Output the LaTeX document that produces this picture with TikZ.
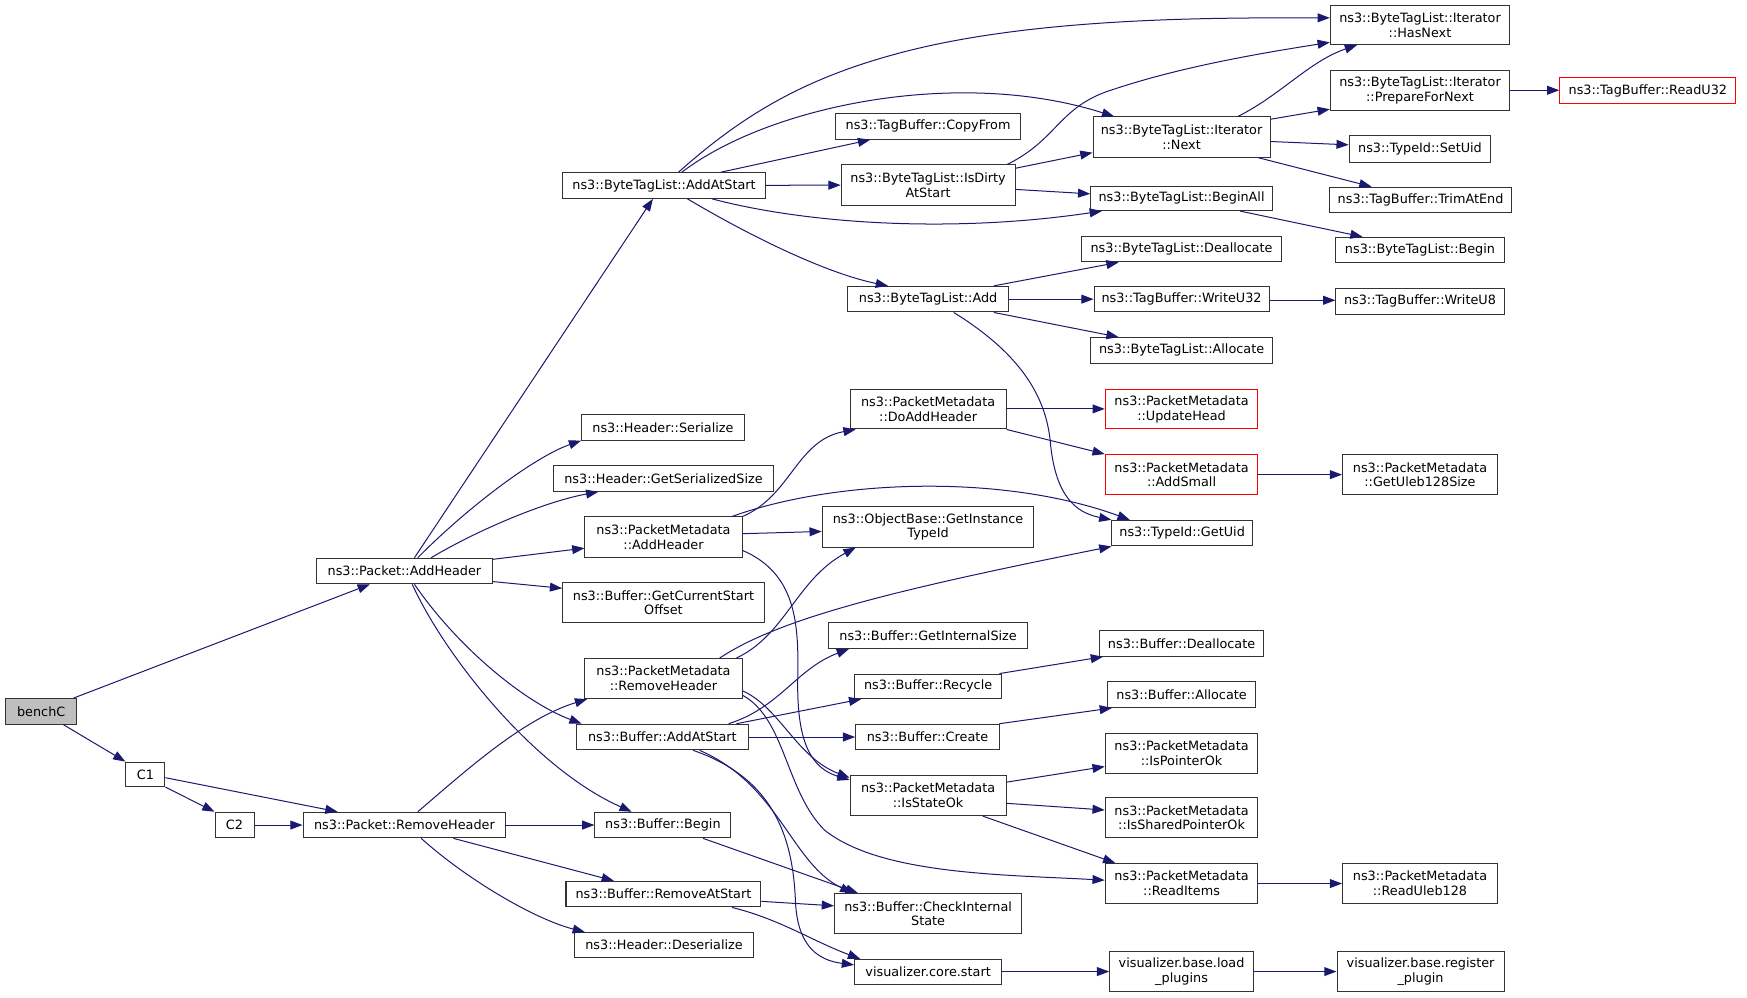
\documentclass[tikz,border=0pt]{standalone}
\usepackage{fontspec}
\setmainfont{DejaVu Sans}
\usetikzlibrary{arrows.meta,calc}
\definecolor{edgeblue}{HTML}{191970}
\definecolor{boxline}{HTML}{333333}
\definecolor{benchgray}{HTML}{BFBFBF}
\newcommand\dgfont{\fontsize{11.5}{13.2}\selectfont}
\tikzset{
  fn/.style={draw=boxline, line width=0.9pt, inner sep=0pt, align=center, font=\dgfont, fill=white},
  redbox/.style={draw=red},
  e/.style={draw=edgeblue, line width=0.9pt, -{Triangle[length=11pt,width=8pt]}}
}
\newcommand\fnode[7][]{%
  \node[fn,#1,minimum width={#4-#3},minimum height={#6-#5}] (#2) at ({(#3+#4)/2},{-(#5+#6)/2}) {#7};}
\begin{document}
\begin{tikzpicture}[x=1pt,y=1pt]
\useasboundingbox (0,0) rectangle (1568,-895);
% ---------- nodes ----------
\fnode[fill=benchgray]{benchC}{5}{69}{627}{650}{benchC}
\fnode{C1}{113}{148}{684}{706}{C1}
\fnode{C2}{193}{228}{729}{752}{C2}
\fnode{pAddH}{284}{442}{501}{524}{ns3::Packet::AddHeader}
\fnode{pRemH}{272}{454}{729}{752}{ns3::Packet::RemoveHeader}
\fnode{btlAddAtStart}{505}{687}{155}{178}{ns3::ByteTagList::AddAtStart}
\fnode{hSer}{522}{668}{372}{395}{ns3::Header::Serialize}
\fnode{hGSS}{497}{694}{418}{441}{ns3::Header::GetSerializedSize}
\fnode{pmAddH}{525}{666}{464}{500}{ns3::PacketMetadata\\::AddHeader}
\fnode{bGCSO}{505}{686}{523}{559}{ns3::Buffer::GetCurrentStart\\Offset}
\fnode{pmRemH}{525}{666}{591}{627}{ns3::PacketMetadata\\::RemoveHeader}
\fnode{bAddAtStart}{517}{672}{650}{673}{ns3::Buffer::AddAtStart}
\fnode{bBegin}{534}{656}{729}{752}{ns3::Buffer::Begin}
\fnode{bRemAtStart}{508}{683}{791}{814}{ns3::Buffer::RemoveAtStart}
\fnode{hDeser}{516}{676}{837}{859}{ns3::Header::Deserialize}
\fnode{tbCopyFrom}{750}{916}{102}{125}{ns3::TagBuffer::CopyFrom}
\fnode{btlIsDirty}{755}{911}{148}{184}{ns3::ByteTagList::IsDirty\\AtStart}
\fnode{btlAdd}{761}{905}{257}{280}{ns3::ByteTagList::Add}
\fnode{pmDoAddH}{763}{903}{350}{385}{ns3::PacketMetadata\\::DoAddHeader}
\fnode{obGIT}{738}{928}{455}{491}{ns3::ObjectBase::GetInstance\\TypeId}
\fnode{bGIS}{744}{922}{559}{582}{ns3::Buffer::GetInternalSize}
\fnode{bRecycle}{767}{899}{605}{627}{ns3::Buffer::Recycle}
\fnode{bCreate}{768}{897}{650}{673}{ns3::Buffer::Create}
\fnode{pmIsStateOk}{763}{903}{696}{732}{ns3::PacketMetadata\\::IsStateOk}
\fnode{bCheck}{749}{917}{802}{838}{ns3::Buffer::CheckInternal\\State}
\fnode{vcStart}{767}{899}{861}{884}{visualizer.core.start}
\fnode{itHasNext}{1194}{1355}{5}{40}{ns3::ByteTagList::Iterator\\::HasNext}
\fnode{itPrep}{1194}{1355}{63}{99}{ns3::ByteTagList::Iterator\\::PrepareForNext}
\fnode[redbox]{tbReadU32}{1400}{1558}{70}{93}{ns3::TagBuffer::ReadU32}
\fnode{itNext}{981}{1140}{105}{141}{ns3::ByteTagList::Iterator\\::Next}
\fnode{tidSetUid}{1211}{1338}{122}{146}{ns3::TypeId::SetUid}
\fnode{tbTrim}{1193}{1357}{168}{191}{ns3::TagBuffer::TrimAtEnd}
\fnode{btlBeginAll}{979}{1142}{167}{189}{ns3::ByteTagList::BeginAll}
\fnode{btlBegin}{1199}{1350}{213}{236}{ns3::ByteTagList::Begin}
\fnode{btlDealloc}{971}{1150}{212}{235}{ns3::ByteTagList::Deallocate}
\fnode{tbWriteU32}{982}{1139}{257}{280}{ns3::TagBuffer::WriteU32}
\fnode{tbWriteU8}{1199}{1350}{259}{282}{ns3::TagBuffer::WriteU8}
\fnode{btlAlloc}{979}{1142}{303}{326}{ns3::ByteTagList::Allocate}
\fnode[redbox]{pmUpdHead}{992}{1129}{350}{385}{ns3::PacketMetadata\\::UpdateHead}
\fnode[redbox]{pmAddSmall}{992}{1129}{408}{444}{ns3::PacketMetadata\\::AddSmall}
\fnode{pmGetUleb}{1205}{1344}{408}{444}{ns3::PacketMetadata\\::GetUleb128Size}
\fnode{tidGetUid}{998}{1124}{467}{490}{ns3::TypeId::GetUid}
\fnode{bDealloc}{987}{1134}{566}{589}{ns3::Buffer::Deallocate}
\fnode{bAlloc}{994}{1127}{612}{635}{ns3::Buffer::Allocate}
\fnode{pmIsPtrOk}{992}{1129}{658}{694}{ns3::PacketMetadata\\::IsPointerOk}
\fnode{pmIsShPtrOk}{992}{1129}{716}{752}{ns3::PacketMetadata\\::IsSharedPointerOk}
\fnode{pmReadItems}{992}{1129}{775}{811}{ns3::PacketMetadata\\::ReadItems}
\fnode{pmReadUleb}{1205}{1344}{775}{811}{ns3::PacketMetadata\\::ReadUleb128}
\fnode{vbLoad}{996}{1125}{854}{890}{visualizer.base.load\\\_plugins}
\fnode{vbReg}{1200}{1350}{854}{890}{visualizer.base.register\\\_plugin}
% ---------- edges ----------
\draw[e] (66,0 |- benchC.north) -- (332,0 |- pAddH.south);
\draw[e] (57,0 |- benchC.south) -- (C1.north west);
\draw[e] (C1.south east) -- (C2.north west);
\draw[e] (C1.east |- 0,-698) -- (303,0 |- pRemH.north);
\draw[e] (C2) -- (pRemH);
\draw[e] (372,0 |- pAddH.north) -- (586,0 |- btlAddAtStart.south);
\draw[e] (375,0 |- pAddH.north) .. controls (420,-455) and (480,-410) .. (hSer.south west);
\draw[e] (387,0 |- pAddH.north) .. controls (430,-475) and (490,-450) .. (537,0 |- hGSS.south);
\draw[e] (pAddH.east |- 0,-502) -- (pmAddH.west |- 0,-492);
\draw[e] (pAddH.east |- 0,-522) -- (bGCSO.west |- 0,-528);
\draw[e] (372,0 |- pAddH.south) .. controls (410,-580) and (470,-630) .. (522,0 |- bAddAtStart.north);
\draw[e] (370,0 |- pAddH.south) .. controls (400,-590) and (480,-690) .. (567,0 |- bBegin.north);
\draw[e] (375,0 |- pRemH.north) .. controls (420,-690) and (470,-645) .. (527,0 |- pmRemH.south);
\draw[e] (pRemH) -- (bBegin);
\draw[e] (407,0 |- pRemH.south) -- (551,0 |- bRemAtStart.north);
\draw[e] (378,0 |- pRemH.south) .. controls (420,-790) and (480,-825) .. (525,0 |- hDeser.north);
\draw[e] (609,0 |- btlAddAtStart.north) .. controls (670,-100) and (730,-65) .. (830,-42) .. controls (950,-15) and (1100,-16) .. (itHasNext.west |- 0,-16);
\draw[e] (612,0 |- btlAddAtStart.north) .. controls (690,-95) and (860,-60) .. (1000,0 |- itNext.north);
\draw[e] (647,0 |- btlAddAtStart.north) -- (781,0 |- tbCopyFrom.south);
\draw[e] (btlAddAtStart) -- (btlIsDirty);
\draw[e] (639,0 |- btlAddAtStart.south) .. controls (720,-200) and (850,-210) .. (989,0 |- btlBeginAll.south);
\draw[e] (617,0 |- btlAddAtStart.south) .. controls (670,-210) and (740,-245) .. (797,0 |- btlAdd.north);
\draw[e] (904,0 |- btlIsDirty.north) .. controls (950,-125) and (950,-95) .. (1000,-80) .. controls (1060,-60) and (1130,-48) .. (itHasNext.west |- 0,-38);
\draw[e] (btlIsDirty.east |- 0,-151) -- (itNext.west |- 0,-137);
\draw[e] (btlIsDirty.east |- 0,-170) -- (btlBeginAll.west |- 0,-174);
\draw[e] (892,0 |- btlAdd.north) -- (1004,0 |- btlDealloc.south);
\draw[e] (btlAdd) -- (tbWriteU32);
\draw[e] (892,0 |- btlAdd.south) -- (1004,0 |- btlAlloc.north);
\draw[e] (856,0 |- btlAdd.south) .. controls (920,-320) and (940,-360) .. (943,-400) .. controls (948,-445) and (965,-460) .. (tidGetUid.north west);
\draw[e] (tbWriteU32.east |- 0,-269.5) -- (tbWriteU8.west |- 0,-269.5);
\draw[e] (1111,0 |- itNext.north) .. controls (1150,-85) and (1175,-55) .. (1218,0 |- itHasNext.south);
\draw[e] (itNext.east |- 0,-107) -- (itPrep.west |- 0,-98);
\draw[e] (itNext.east |- 0,-127) -- (tidSetUid.west |- 0,-130);
\draw[e] (1129,0 |- itNext.south) -- (1231,0 |- tbTrim.north);
\draw[e] (itPrep.east |- 0,-81) -- (tbReadU32.west |- 0,-81);
\draw[e] (1113,0 |- btlBeginAll.south) -- (1223,0 |- btlBegin.north);
\draw[e] (pmDoAddH.east |- 0,-367) -- (pmUpdHead.west |- 0,-367);
\draw[e] (pmDoAddH.south east) -- (pmAddSmall.north west);
\draw[e] (pmAddSmall) -- (pmGetUleb);
\draw[e] (pmAddH.north east) .. controls (710,-445) and (715,-395) .. (768,0 |- pmDoAddH.south);
\draw[e] (657,0 |- pmAddH.north) .. controls (750,-430) and (900,-425) .. (1014,0 |- tidGetUid.north);
\draw[e] (pmAddH.east |- 0,-479) -- (obGIT.west |- 0,-477);
\draw[e] (pmAddH.east |- 0,-494) .. controls (715,-515) and (717,-560) .. (716,-610) .. controls (715,-670) and (730,-690) .. (pmIsStateOk.west |- 0,-700);
\draw[e] (661,0 |- pmRemH.north) .. controls (705,-570) and (715,-520) .. (768,0 |- obGIT.south);
\draw[e] (646,0 |- pmRemH.north) .. controls (700,-555) and (800,-530) .. (tidGetUid.south west);
\draw[e] (pmRemH.east |- 0,-620) .. controls (700,-635) and (715,-680) .. (pmIsStateOk.west |- 0,-698);
\draw[e] (pmRemH.east |- 0,-624) .. controls (705,-645) and (705,-710) .. (740,-745) .. controls (790,-785) and (900,-785) .. (pmReadItems.west |- 0,-790);
\draw[e] (654,0 |- bAddAtStart.north) .. controls (700,-635) and (715,-600) .. (762,0 |- bGIS.south);
\draw[e] (661,0 |- bAddAtStart.north) -- (773,0 |- bRecycle.south);
\draw[e] (bAddAtStart) -- (bCreate);
\draw[e] (628,0 |- bAddAtStart.south) .. controls (700,-705) and (710,-775) .. (765,0 |- bCheck.north);
\draw[e] (622,0 |- bAddAtStart.south) .. controls (700,-700) and (712,-760) .. (714,-810) .. controls (716,-850) and (735,-862) .. (vcStart.west |- 0,-866);
\draw[e] (631,0 |- bBegin.south) -- (770,0 |- bCheck.north);
\draw[e] (bRemAtStart.east |- 0,-809) -- (bCheck.west |- 0,-813);
\draw[e] (657,0 |- bRemAtStart.south) .. controls (700,-825) and (730,-845) .. (772,0 |- vcStart.north);
\draw[e] (897,0 |- bRecycle.north) -- (990,0 |- bDealloc.south);
\draw[e] (897,0 |- bCreate.north) -- (998,0 |- bAlloc.south);
\draw[e] (pmIsStateOk.east |- 0,-702) -- (pmIsPtrOk.west |- 0,-688);
\draw[e] (pmIsStateOk.east |- 0,-721) -- (pmIsShPtrOk.west |- 0,-727);
\draw[e] (882,0 |- pmIsStateOk.south) -- (1001,0 |- pmReadItems.north);
\draw[e] (pmReadItems) -- (pmReadUleb);
\draw[e] (vcStart.east |- 0,-872) -- (vbLoad.west |- 0,-872);
\draw[e] (vbLoad) -- (vbReg);
\end{tikzpicture}
\end{document}
